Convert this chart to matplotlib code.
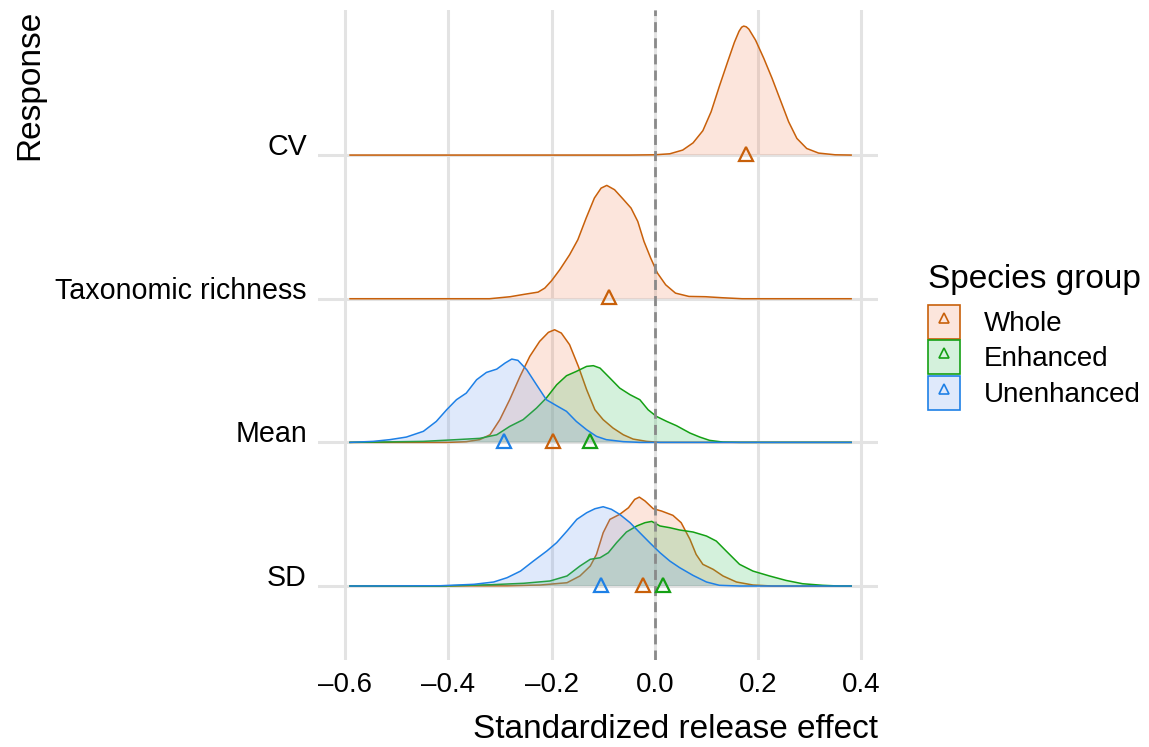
import matplotlib
matplotlib.use("Agg")
import matplotlib.pyplot as plt
from matplotlib.colors import to_rgba
from matplotlib.patches import Patch
from matplotlib.lines import Line2D
from matplotlib.legend_handler import HandlerTuple

plt.rcParams["font.family"] = ["Liberation Sans", "DejaVu Sans"]

# rows from bottom to top
responses = ["SD", "Mean", "Taxonomic richness", "CV"]
groups = ["Whole", "Enhanced", "Unenhanced"]

# ridge heights, in units of the row spacing
cv_whole_x = [-0.59, -0.05, 0.0, 0.029, 0.054, 0.074, 0.093, 0.109, 0.125, 0.141, 0.154,
              0.163, 0.168, 0.172, 0.177, 0.182, 0.195, 0.211, 0.227, 0.243, 0.259, 0.275,
              0.294, 0.317, 0.349, 0.38]
cv_whole_h = [0, 0, 0.002, 0.009, 0.035, 0.085, 0.170, 0.302, 0.480, 0.650, 0.785,
              0.862, 0.890, 0.898, 0.893, 0.877, 0.800, 0.673, 0.534, 0.383, 0.232, 0.116,
              0.046, 0.014, 0.002, 0]

tax_whole_x = [-0.59, -0.32, -0.280, -0.254, -0.226, -0.213, -0.200, -0.184, -0.165, -0.149,
               -0.133, -0.117, -0.104, -0.093, -0.078, -0.062, -0.046, -0.033, -0.021,
               -0.008, 0.005, 0.021, 0.040, 0.066, 0.098, 0.130, 0.169, 0.38]
tax_whole_h = [0, 0, 0.014, 0.030, 0.046, 0.074, 0.125, 0.202, 0.306, 0.411,
               0.561, 0.701, 0.770, 0.789, 0.759, 0.696, 0.631, 0.538, 0.399,
               0.283, 0.179, 0.097, 0.039, 0.016, 0.014, 0.007, 0, 0]

mean_whole_x = [-0.59, -0.40, -0.365, -0.339, -0.319, -0.300, -0.281, -0.261, -0.242, -0.223,
                -0.206, -0.194, -0.181, -0.165, -0.148, -0.132, -0.116, -0.100, -0.081,
                -0.061, -0.042, -0.016, 0.010, 0.38]
mean_whole_h = [0, 0, 0.005, 0.019, 0.053, 0.158, 0.297, 0.459, 0.599, 0.703,
                0.766, 0.784, 0.761, 0.680, 0.529, 0.367, 0.227, 0.158, 0.100,
                0.053, 0.023, 0.007, 0, 0]

mean_enh_x = [-0.59, -0.545, -0.448, -0.384, -0.339, -0.306, -0.281, -0.255, -0.229, -0.210,
              -0.190, -0.171, -0.152, -0.132, -0.119, -0.106, -0.087, -0.068, -0.048,
              -0.029, -0.013, 0.003, 0.023, 0.042, 0.068, 0.087, 0.106, 0.132, 0.165, 0.38]
mean_enh_h = [0, 0.002, 0.007, 0.019, 0.028, 0.053, 0.111, 0.158, 0.239, 0.309,
              0.401, 0.464, 0.494, 0.529, 0.534, 0.517, 0.448, 0.378, 0.332,
              0.297, 0.227, 0.181, 0.146, 0.116, 0.065, 0.037, 0.014, 0.002, 0, 0]

mean_unenh_x = [-0.59, -0.545, -0.513, -0.481, -0.448, -0.423, -0.403, -0.384, -0.365, -0.345,
                -0.326, -0.306, -0.290, -0.277, -0.265, -0.248, -0.229, -0.210, -0.190,
                -0.171, -0.152, -0.132, -0.113, -0.094, -0.061, -0.029, 0.38]
mean_unenh_h = [0, 0.007, 0.019, 0.037, 0.077, 0.146, 0.227, 0.297, 0.343, 0.436,
                0.487, 0.510, 0.552, 0.580, 0.571, 0.506, 0.401, 0.297, 0.255,
                0.216, 0.146, 0.088, 0.042, 0.019, 0.005, 0, 0]

sd_whole_x = [-0.59, -0.286, -0.222, -0.170, -0.145, -0.125, -0.113, -0.100, -0.087, -0.068,
              -0.051, -0.039, -0.030, -0.019, -0.003, 0.013, 0.035, 0.051, 0.068, 0.080,
              0.093, 0.113, 0.132, 0.158, 0.190, 0.228, 0.38]
sd_whole_h = [0, 0.002, 0.007, 0.023, 0.070, 0.139, 0.220, 0.371, 0.464, 0.499,
              0.545, 0.603, 0.619, 0.592, 0.538, 0.522, 0.492, 0.441, 0.325, 0.220,
              0.151, 0.116, 0.070, 0.028, 0.007, 0, 0]

sd_enh_x = [-0.59, -0.415, -0.318, -0.254, -0.203, -0.170, -0.145, -0.125, -0.106, -0.090,
            -0.074, -0.055, -0.035, -0.019, -0.006, 0.010, 0.029, 0.048, 0.074, 0.100,
            0.119, 0.138, 0.164, 0.190, 0.222, 0.254, 0.286, 0.325, 0.357, 0.38]
sd_enh_h = [0, 0, 0.009, 0.019, 0.035, 0.070, 0.139, 0.186, 0.197, 0.232,
            0.302, 0.376, 0.418, 0.441, 0.450, 0.418, 0.406, 0.390, 0.376, 0.348,
            0.313, 0.244, 0.151, 0.104, 0.070, 0.039, 0.016, 0.005, 0, 0]

sd_unenh_x = [-0.59, -0.415, -0.350, -0.312, -0.286, -0.260, -0.235, -0.209, -0.190, -0.170,
              -0.151, -0.132, -0.116, -0.100, -0.084, -0.068, -0.048, -0.029, -0.010,
              0.010, 0.029, 0.048, 0.074, 0.100, 0.125, 0.164, 0.38]
sd_unenh_h = [0, 0.002, 0.012, 0.028, 0.058, 0.104, 0.174, 0.244, 0.302, 0.383,
              0.464, 0.510, 0.538, 0.552, 0.534, 0.499, 0.441, 0.371, 0.302,
              0.232, 0.174, 0.128, 0.074, 0.028, 0.005, 0, 0]

# posterior means (triangles)
mean_effects = {
    ("CV", "Whole"): 0.176,
    ("Taxonomic richness", "Whole"): -0.089,
    ("Mean", "Whole"): -0.198,
    ("Mean", "Enhanced"): -0.126,
    ("Mean", "Unenhanced"): -0.291,
    ("SD", "Whole"): -0.023,
    ("SD", "Enhanced"): 0.015,
    ("SD", "Unenhanced"): -0.105,
}

ridges = [
    ("CV", "Whole", cv_whole_x, cv_whole_h),
    ("Taxonomic richness", "Whole", tax_whole_x, tax_whole_h),
    ("Mean", "Whole", mean_whole_x, mean_whole_h),
    ("Mean", "Enhanced", mean_enh_x, mean_enh_h),
    ("Mean", "Unenhanced", mean_unenh_x, mean_unenh_h),
    ("SD", "Whole", sd_whole_x, sd_whole_h),
    ("SD", "Enhanced", sd_enh_x, sd_enh_h),
    ("SD", "Unenhanced", sd_unenh_x, sd_unenh_h),
]

x_ticks = [-0.6, -0.4, -0.2, 0.0, 0.2, 0.4]
x_tick_labels = ["\u20130.6", "\u20130.4", "\u20130.2", "0.0", "0.2", "0.4"]

EDGE = {"Whole": "#C8600A", "Enhanced": "#14A014", "Unenhanced": "#1E80E6"}
FILL = {"Whole": "#F58A62", "Enhanced": "#3CC060", "Unenhanced": "#6E9EF0"}
FILL_ALPHA = 0.22
GRID = "#E3E3E3"


def plot_ridges():
    fig = plt.figure(figsize=(11.49, 7.47), dpi=100)
    ax = fig.add_axes([318 / 1149, 87 / 747, 560 / 1149, 650 / 747])

    row_of = {name: i + 1 for i, name in enumerate(responses)}
    order = {g: k for k, g in enumerate(groups)}

    for response, group, xs, hs in ridges:
        base = row_of[response]
        top = [base + h for h in hs]
        z = 3 + order[group]
        ax.fill_between(xs, base, top, facecolor=FILL[group],
                        alpha=FILL_ALPHA, edgecolor="none", zorder=z)
        ax.plot(xs, top, color=EDGE[group], lw=1.1, zorder=z + 0.5,
                solid_joinstyle="round")

    ax.axvline(0, color="#8A8A8A", lw=2, linestyle=(0, (3.6, 2.2)), zorder=10)

    for (response, group), val in mean_effects.items():
        ax.plot(val, row_of[response] + 0.01, marker="^", ms=9.5, mfc="none",
                mec=EDGE[group], mew=1.6, linestyle="", zorder=12)

    ax.set_xlim(-0.652, 0.432)
    ax.set_ylim(0.485, 5.01)
    ax.set_xticks(x_ticks)
    ax.set_xticklabels(x_tick_labels, fontsize=20)
    ax.set_yticks(range(1, len(responses) + 1))
    ax.set_yticklabels(responses, fontsize=20.6)
    for t in ax.get_yticklabels():
        t.set_verticalalignment("baseline")
    ax.tick_params(axis="x", length=0, pad=9)
    ax.tick_params(axis="y", length=0, pad=8)
    ax.grid(True, color=GRID, lw=2.2)
    ax.set_axisbelow(True)
    for s in ax.spines.values():
        s.set_visible(False)

    fig.text(878 / 1149, 0.003, "Standardized release effect", fontsize=24,
             ha="right", va="bottom")
    fig.text(30 / 1149, 1 - 10 / 747, "Response", fontsize=24, rotation=90,
             ha="center", va="top")

    handles = []
    for g in groups:
        box = Patch(facecolor=to_rgba(FILL[g], FILL_ALPHA), edgecolor=EDGE[g], lw=1.2)
        tri = Line2D([], [], linestyle="", marker="^", ms=7, mfc="none",
                     mec=EDGE[g], mew=1.2)
        handles.append((box, tri))
    leg = fig.legend(handles, groups, handler_map={tuple: HandlerTuple(ndivide=1)},
                     loc="upper left", bbox_to_anchor=(928 / 1149, 1 - 264 / 747),
                     frameon=False, fontsize=20, title="Species group",
                     title_fontsize=24, alignment="left", borderpad=0,
                     handlelength=1.15, handleheight=1.51, labelspacing=0.05,
                     handletextpad=0.85, borderaxespad=0)
    leg._legend_box.sep = 7

    fig.savefig("out.png", dpi=100)
    plt.close(fig)


if __name__ == "__main__":
    plot_ridges()
